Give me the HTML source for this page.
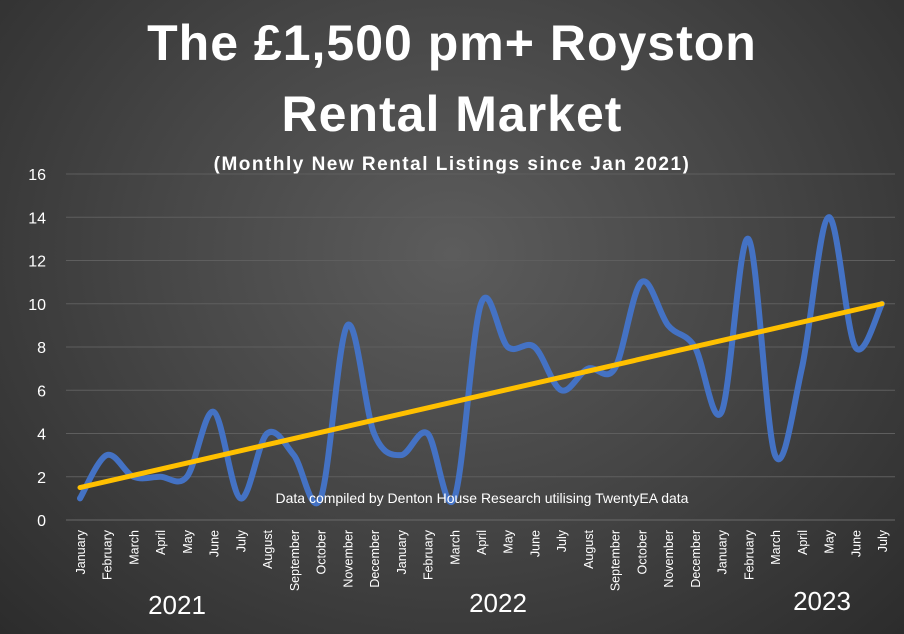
<!DOCTYPE html>
<html><head><meta charset="utf-8"><style>
html,body{margin:0;padding:0}
body{width:904px;height:634px;overflow:hidden;background:radial-gradient(ellipse at 50% 40%,#5c5c5c 0%,#474747 45%,#2c2c2c 100%);font-family:"Liberation Sans",sans-serif}
</style></head><body>
<svg id="chart" width="904" height="634" xmlns="http://www.w3.org/2000/svg" font-family="Liberation Sans, sans-serif" style="display:block">
<text x="452" y="60" text-anchor="middle" fill="#fff" font-size="50" font-weight="bold" letter-spacing="1">The £1,500 pm+ Royston</text>
<text x="452" y="131" text-anchor="middle" fill="#fff" font-size="50" font-weight="bold" letter-spacing="1">Rental Market</text>
<text x="452" y="170" text-anchor="middle" fill="#fff" font-size="19" font-weight="bold" letter-spacing="1.5">(Monthly New Rental Listings since Jan 2021)</text>
<g id="grid"></g><g id="xlabels"></g><g id="series"></g>
<text x="482" y="503" text-anchor="middle" fill="#fff" font-size="14">Data compiled by Denton House Research utilising TwentyEA data</text>
<text x="177" y="614" text-anchor="middle" fill="#fff" font-size="26">2021</text>
<text x="498" y="612" text-anchor="middle" fill="#fff" font-size="26">2022</text>
<text x="822" y="610" text-anchor="middle" fill="#fff" font-size="26">2023</text>
</svg>
<script>
const months=["January","February","March","April","May","June","July","August","September","October","November","December","January","February","March","April","May","June","July","August","September","October","November","December","January","February","March","April","May","June","July"];
const listings=[1,3,2,2,2,5,1,4,3,1,9,4,3,4,1,10,8,8,6,7,7,11,9,8,5,13,3,7,14,8,10];
const trendValues=[1.5,10];
const yTicks=[0,2,4,6,8,10,12,14,16];
const NS="http://www.w3.org/2000/svg";
const x0=80,x1=882,yBase=520,yTop=174,yMax=16;
const xs=i=>x0+i*(x1-x0)/(months.length-1);
const ys=v=>yBase-v*(yBase-yTop)/yMax;
function mk(tag,attrs,parent){const e=document.createElementNS(NS,tag);for(const k in attrs)e.setAttribute(k,attrs[k]);parent.appendChild(e);return e;}
const grid=document.getElementById('grid');
yTicks.forEach(t=>{
  const l=mk('line',{x1:66,x2:895,y1:ys(t),y2:ys(t),stroke:t===0?'#6a6a6a':'#5e5e5e','stroke-width':1},grid);
  
  
  const tx=mk('text',{x:46,y:ys(t)+6,'text-anchor':'end',fill:'#fff','font-size':16},grid);
  tx.textContent=t;
  
  
});
const xl=document.getElementById('xlabels');
months.forEach((m,i)=>{
  const t=mk('text',{transform:`translate(${xs(i)+5},530) rotate(-90)`,'text-anchor':'end',fill:'#fff','font-size':12.5},xl);
  t.textContent=m;
  
  
});
const pts=listings.map((v,i)=>[xs(i),ys(v)]);
let d=`M${pts[0][0]},${pts[0][1]}`;
for(let i=0;i<pts.length-1;i++){
  const p0=pts[Math.max(0,i-1)],p1=pts[i],p2=pts[i+1],p3=pts[Math.min(pts.length-1,i+2)];
  const k=1/6;
  d+=` C${p1[0]+(p2[0]-p0[0])*k},${p1[1]+(p2[1]-p0[1])*k} ${p2[0]-(p3[0]-p1[0])*k},${p2[1]-(p3[1]-p1[1])*k} ${p2[0]},${p2[1]}`;
}
const s=document.getElementById('series');
const line=mk('path',{d:d,fill:'none',stroke:'#4472c4','stroke-width':6,'stroke-linejoin':'round','stroke-linecap':'round'},s);


const tr=mk('line',{x1:xs(0),y1:ys(trendValues[0]),x2:xs(months.length-1),y2:ys(trendValues[1]),stroke:'#ffc000','stroke-width':5,'stroke-linecap':'round'},s);


</script>
</body></html>
